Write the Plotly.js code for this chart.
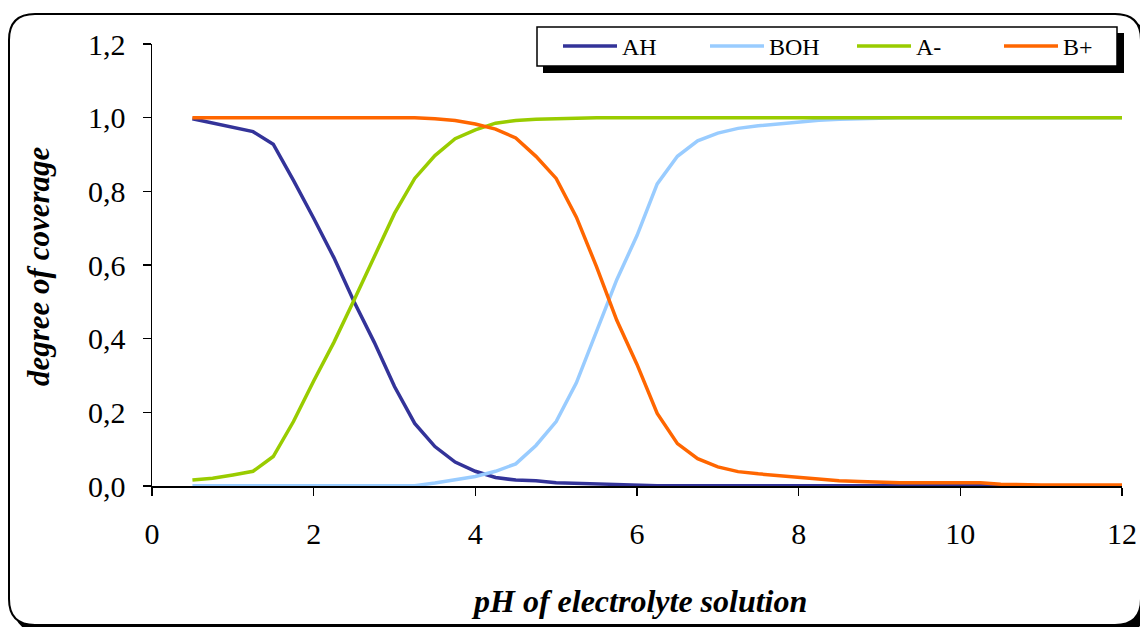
<!DOCTYPE html>
<html>
<head>
<meta charset="utf-8">
<script src="https://cdn.plot.ly/plotly-3.0.1.min.js"></script>
<style>html,body{margin:0;padding:0;background:#fff;}#chart{width:1140px;height:627px;}</style>
</head>
<body>
<div id="chart"></div>
<script>
const pH = [0.5,0.75,1,1.25,1.5,1.75,2,2.25,2.5,2.75,3,3.25,3.5,3.75,4,4.25,4.5,4.75,5,5.25,5.5,5.75,6,6.25,6.5,6.75,7,7.25,7.5,7.75,8,8.25,8.5,8.75,9,9.25,9.5,9.75,10,10.25,10.5,10.75,11,11.25,11.5,11.75,12];

const AH = [0.997,0.985,0.974,0.962,0.928,0.83,0.727,0.62,0.50,0.39,0.27,0.17,0.107,0.065,0.040,0.023,0.016,0.014,0.009,0.007,0.005,0.003,0.002,
  0.001,0.001,0.001,0.001,0.001,0.001,0.001,0.001,0.001,0.001,0.001,0.001,0.001,0.001,0.001,0.001,0.001,0.001,0.001,0.001,0.001,0.001,0.001,0.001];

const BOH = [0.001,0.001,0.001,0.001,0.001,0.001,0.001,0.001,0.001,0.001,0.001,0.001,
  0.008,0.016,0.026,0.040,0.060,0.11,0.175,0.28,0.42,0.56,0.68,0.82,0.895,0.937,0.958,0.971,0.978,0.983,0.989,0.993,0.996,0.998,
  1,1,1,1,1,1,1,1,1,1,1,1,1];

const Aminus = [0.016,0.021,0.030,0.040,0.080,0.175,0.285,0.39,0.505,0.62,0.74,0.835,0.897,0.943,0.967,0.985,0.992,0.996,0.998,0.999,
  1,1,1,1,1,1,1,1,1,1,1,1,1,1,1,1,1,1,1,1,1,1,1,1,1,1,1];

const Bplus = [1,1,1,1,1,1,1,1,1,1,1,1,
  0.997,0.992,0.983,0.969,0.945,0.895,0.835,0.73,0.595,0.45,0.33,0.197,0.115,0.074,0.052,0.039,0.033,0.028,0.024,0.019,0.014,0.012,0.010,0.009,0.009,0.009,0.009,0.009,0.005,
  0.003,0.003,0.003,0.003,0.003,0.003];

const seriesNames = ['AH','BOH','A-','B+'];
const seriesColors = ['#333399','#99CCFF','#99CC00','#FF6600'];
const seriesValues = [AH, BOH, Aminus, Bplus];

const xTicks = [0,2,4,6,8,10,12];
const yTicks = [0,0.2,0.4,0.6,0.8,1.0,1.2];

const traces = seriesNames.map((n,i)=>({
  x: pH, y: seriesValues[i], name: n, type:'scatter', mode:'lines',
  line:{color:seriesColors[i], width:3.5}
}));

// pixel -> paper helpers (plot area 152..1122 x, 44..486 y)
const L=152, R=1122, T=44, B=486;
const px = v => (v-L)/(R-L);
const py = v => (B-v)/(B-T);
function roundRect(x0,y0,x1,y1,r){
  return `M${px(x0+r)},${py(y0)} L${px(x1-r)},${py(y0)} Q${px(x1)},${py(y0)} ${px(x1)},${py(y0+r)} `+
         `L${px(x1)},${py(y1-r)} Q${px(x1)},${py(y1)} ${px(x1-r)},${py(y1)} `+
         `L${px(x0+r)},${py(y1)} Q${px(x0)},${py(y1)} ${px(x0)},${py(y1-r)} `+
         `L${px(x0)},${py(y0+r)} Q${px(x0)},${py(y0)} ${px(x0+r)},${py(y0)} Z`;
}

const serif = 'Liberation Serif';

const layout = {
  width:1140, height:627,
  margin:{l:L, r:1140-R, t:T, b:627-B, pad:0, autoexpand:false},
  paper_bgcolor:'rgba(0,0,0,0)', plot_bgcolor:'rgba(0,0,0,0)',
  separators:', ',
  showlegend:true,
  font:{family:serif, color:'#000'},
  xaxis:{range:[0,12], tickvals:xTicks, ticktext:xTicks.map(String), showgrid:false, zeroline:false, automargin:false,
    showline:true, linecolor:'#000', linewidth:1.5, ticks:'outside', ticklen:8, tickwidth:1.5, tickcolor:'#000',
    tickfont:{family:serif, size:30, color:'#000'}, ticklabelstandoff:12, fixedrange:true},
  yaxis:{range:[0,1.2], tickvals:yTicks, tickformat:'.1f', showgrid:false, zeroline:false, automargin:false,
    showline:true, linecolor:'#000', linewidth:1.5, ticks:'outside', ticklen:8, tickwidth:1.5, tickcolor:'#000',
    tickfont:{family:serif, size:30, color:'#000'}, ticklabelstandoff:11, fixedrange:true},
  legend:{orientation:'h', x:px(558), y:py(46.5), xanchor:'left', yanchor:'middle',
    bgcolor:'rgba(0,0,0,0)', borderwidth:0, itemwidth:54,
    font:{family:serif, size:24, color:'#000'}, entrywidth:78, entrywidthmode:'pixels', traceorder:'normal'},
  shapes:[
    {type:'path', xref:'paper', yref:'paper', layer:'below', path:roundRect(14,19,1147,632,26), fillcolor:'#000', line:{width:0}},
    {type:'path', xref:'paper', yref:'paper', layer:'below', path:roundRect(9,14,1141,625,26), fillcolor:'#fff', line:{color:'#000', width:2}},
    {type:'rect', xref:'paper', yref:'paper', layer:'above', x0:px(543), x1:px(1124), y0:py(33), y1:py(73), fillcolor:'#000', line:{width:0}},
    {type:'rect', xref:'paper', yref:'paper', layer:'above', x0:px(537), x1:px(1117), y0:py(27), y1:py(66), fillcolor:'#fff', line:{color:'#000', width:1.5}}
  ],
  annotations:[
    {text:'<b><i>pH of electrolyte solution</i></b>', xref:'paper', yref:'paper', x:px(639), y:py(601),
     xanchor:'center', yanchor:'middle', showarrow:false, font:{family:serif, size:32, color:'#000'}},
    {text:'<b><i>degree of coverage</i></b>', xref:'paper', yref:'paper', x:px(38), y:py(266),
     xanchor:'center', yanchor:'middle', textangle:-90, showarrow:false, font:{family:serif, size:31, color:'#000'}}
  ]
};

Plotly.newPlot('chart', traces, layout, {staticPlot:true, displayModeBar:false});
</script>
</body>
</html>
